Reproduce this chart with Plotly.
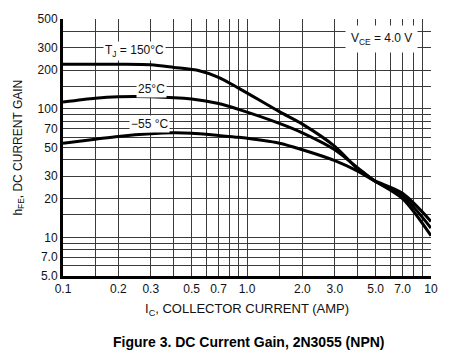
import plotly.graph_objects as go

# Collector current (A)
ic_150 = [0.1, 0.2, 0.3, 0.4, 0.55, 0.7, 0.9, 1.5, 2.0, 3.0, 4.0, 4.9, 7.0, 10.0]
hfe_150 = [222, 222, 220, 210, 198, 176, 145, 95, 76, 51, 34, 27.7, 20, 10.3]

ic_25 = [0.1, 0.15, 0.2, 0.3, 0.5, 0.7, 0.9, 1.5, 2.0, 3.0, 4.0, 4.9, 7.0, 10.0]
hfe_25 = [113, 121, 124, 124, 119, 110, 99, 77, 65, 48, 34.7, 27.7, 21, 11.8]

ic_m55 = [0.1, 0.15, 0.2, 0.3, 0.4, 0.5, 0.7, 0.9, 1.5, 2.0, 3.0, 4.0, 4.9, 7.0, 10.0]
hfe_m55 = [54, 58, 61, 64, 65, 64.5, 62, 60, 54, 48, 39.5, 32.7, 27.7, 22, 13.3]

x_tickvals = [0.1, 0.2, 0.3, 0.5, 0.7, 1.0, 2.0, 3.0, 5.0, 7.0, 10]
x_ticktext = ["0.1", "0.2", "0.3", "0.5", "0.7", "1.0", "2.0", "3.0", "5.0", "7.0", "10"]
x_minor = [0.15, 0.4, 0.6, 0.8, 0.9, 1.5, 4.0, 6.0, 8.0, 9.0]

y_tickvals = [5, 7, 10, 20, 30, 50, 70, 100, 200, 300, 500]
y_ticktext = ["5.0", "7.0", "10", "20", "30", "50", "70", "100", "200", "300", "500"]
y_minor = [6, 8, 9, 15, 40, 60, 80, 90, 150, 400]

FONT = "Liberation Sans, Arial, sans-serif"
GRID = "#3a3a3a"

fig = go.Figure()
for xs, ys in [(ic_150, hfe_150), (ic_25, hfe_25), (ic_m55, hfe_m55)]:
    fig.add_trace(go.Scatter(x=xs, y=ys, mode="lines",
                             line=dict(color="black", width=3, shape="spline", smoothing=0.8),
                             showlegend=False, hoverinfo="skip"))

axis_common = dict(type="log", showline=True, linecolor="black", linewidth=3,
                   showgrid=True, gridcolor=GRID, gridwidth=1, ticks="",
                   zeroline=False, tickfont=dict(family=FONT, size=12, color="#111"))

fig.update_xaxes(**axis_common, range=[-1, 1], tickmode="array",
                 tickvals=x_tickvals, ticktext=x_ticktext,
                 minor=dict(tickmode="array", tickvals=x_minor, showgrid=True,
                            gridcolor=GRID, gridwidth=1, ticks=""))
fig.update_yaxes(**axis_common, range=[0.69897, 2.69897], tickmode="array",
                 tickvals=y_tickvals, ticktext=y_ticktext,
                 minor=dict(tickmode="array", tickvals=y_minor, showgrid=True,
                            gridcolor=GRID, gridwidth=1, ticks=""))

ann_font = dict(family=FONT, size=12, color="#111")
labels = [
    ("T<sub>J</sub> = 150°C", 0.195, 0.877),
    ("25°C", 0.241, 0.728),
    ("−55 °C", 0.235, 0.59),
]
for txt, xp, yp in labels:
    fig.add_annotation(text=txt, x=xp, y=yp, xref="paper", yref="paper",
                       xanchor="center", yanchor="middle",
                       showarrow=False, bgcolor="white", borderpad=1, font=ann_font)

fig.add_annotation(text="V<sub>CE</sub> = 4.0 V", x=0.865, y=0.923, xref="paper", yref="paper",
                   xanchor="center", yanchor="middle",
                   showarrow=False, bgcolor="white", borderpad=5, font=ann_font)

# axis titles and caption
fig.add_annotation(text="h<sub>FE</sub>, DC CURRENT GAIN", x=-0.122, y=0.5,
                   xref="paper", yref="paper", textangle=-90, showarrow=False,
                   xanchor="center", yanchor="middle",
                   font=dict(family=FONT, size=12, color="#111"))
fig.add_annotation(text="I<sub>C</sub>, COLLECTOR CURRENT (AMP)", x=0.5, y=-0.13,
                   xref="paper", yref="paper", showarrow=False,
                   xanchor="center", yanchor="middle",
                   font=dict(family=FONT, size=13, color="#111"))
fig.add_annotation(text="<b>Figure 3. DC Current Gain, 2N3055 (NPN)</b>", x=0.506, y=-0.258,
                   xref="paper", yref="paper", showarrow=False,
                   xanchor="center", yanchor="middle",
                   font=dict(family=FONT, size=14, color="#000"))

fig.update_layout(width=450, height=364, margin=dict(l=63, r=17, t=16, b=88),
                  paper_bgcolor="white", plot_bgcolor="white")

fig.write_html("out.html", config={"displayModeBar": False},
               post_script="document.body.style.margin='0';")
